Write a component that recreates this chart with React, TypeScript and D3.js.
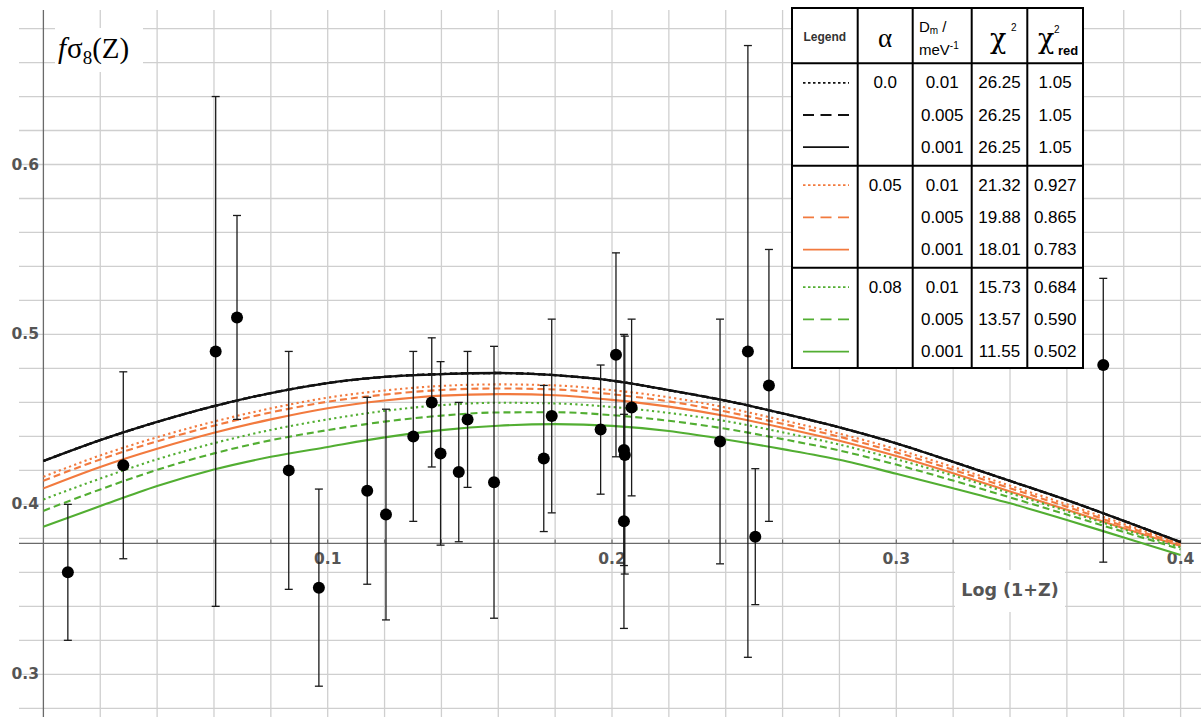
import React from "react";
import * as d3 from "d3";

// Model grid in log(1+z)
const zGrid = [0, 0.02, 0.04, 0.06, 0.08, 0.1, 0.12, 0.14, 0.16, 0.18, 0.2, 0.22, 0.24, 0.26, 0.28, 0.3, 0.32, 0.34, 0.36, 0.38, 0.4];

// fσ8 model curves, α = 0.0 (identical for every Dm)
const a00_dm010 = [0.4255, 0.4378, 0.4485, 0.4578, 0.4655, 0.4714, 0.475, 0.4767, 0.4773, 0.476, 0.4728, 0.4672, 0.461, 0.4535, 0.4453, 0.4359, 0.425, 0.4138, 0.4025, 0.3903, 0.3778];
const a00_dm005 = [0.4255, 0.4378, 0.4485, 0.4578, 0.4655, 0.4714, 0.475, 0.4767, 0.4773, 0.476, 0.4728, 0.4672, 0.461, 0.4535, 0.4453, 0.4359, 0.425, 0.4138, 0.4025, 0.3903, 0.3778];
const a00_dm001 = [0.4255, 0.4378, 0.4485, 0.4578, 0.4655, 0.4714, 0.475, 0.4767, 0.4773, 0.476, 0.4728, 0.4672, 0.461, 0.4535, 0.4453, 0.4359, 0.425, 0.4138, 0.4025, 0.3903, 0.3778];
// α = 0.05
const a05_dm010 = [0.4162, 0.4288, 0.4395, 0.4487, 0.4565, 0.4628, 0.467, 0.4697, 0.4706, 0.47, 0.4672, 0.463, 0.457, 0.4495, 0.4416, 0.4325, 0.422, 0.411, 0.4, 0.3885, 0.3771];
const a05_dm005 = [0.4139, 0.4264, 0.4371, 0.4463, 0.4541, 0.4604, 0.4646, 0.4673, 0.4682, 0.4676, 0.4648, 0.4606, 0.4546, 0.4474, 0.4398, 0.4306, 0.4203, 0.4095, 0.3986, 0.3873, 0.3765];
const a05_dm001 = [0.4094, 0.422, 0.4327, 0.4421, 0.45, 0.4566, 0.4611, 0.464, 0.4649, 0.4642, 0.4615, 0.4575, 0.452, 0.4451, 0.4374, 0.4284, 0.4183, 0.4076, 0.3968, 0.3859, 0.3755];
// α = 0.08
const a08_dm010 = [0.4029, 0.4152, 0.4265, 0.436, 0.4438, 0.45, 0.455, 0.4584, 0.4598, 0.4594, 0.4573, 0.4538, 0.449, 0.4424, 0.4352, 0.4266, 0.417, 0.4065, 0.396, 0.3853, 0.3747];
const a08_dm005 = [0.3962, 0.4088, 0.4203, 0.43, 0.4377, 0.4437, 0.4487, 0.4522, 0.4541, 0.4542, 0.4525, 0.4492, 0.4445, 0.4384, 0.4317, 0.4234, 0.414, 0.4041, 0.394, 0.3838, 0.3735];
const a08_dm001 = [0.3868, 0.399, 0.4108, 0.4205, 0.428, 0.4338, 0.4394, 0.4437, 0.4463, 0.4472, 0.4462, 0.4432, 0.4382, 0.4325, 0.4262, 0.418, 0.4095, 0.4006, 0.3908, 0.3805, 0.3702];

// Observed fσ8 measurements
const obsZ = [0.0086, 0.0281, 0.0606, 0.0681, 0.0863, 0.0969, 0.1139, 0.1205, 0.1301, 0.1366, 0.1397, 0.1461, 0.1492, 0.1585, 0.176, 0.1788, 0.196, 0.2014, 0.2042, 0.2045, 0.2042, 0.2069, 0.238, 0.2478, 0.2504, 0.2552, 0.3728];
const obsF = [0.36, 0.423, 0.49, 0.51, 0.42, 0.351, 0.408, 0.394, 0.44, 0.46, 0.43, 0.419, 0.45, 0.413, 0.427, 0.452, 0.444, 0.488, 0.432, 0.429, 0.39, 0.457, 0.437, 0.49, 0.381, 0.47, 0.482];
const errUp = [0.04, 0.055, 0.15, 0.06, 0.07, 0.058, 0.055, 0.062, 0.05, 0.038, 0.054, 0.041, 0.04, 0.08, 0.043, 0.057, 0.038, 0.06, 0.068, 0.07, 0.063, 0.052, 0.072, 0.18, 0.04, 0.08, 0.051];
const errDown = [0.04, 0.055, 0.15, 0.06, 0.07, 0.058, 0.055, 0.062, 0.05, 0.038, 0.054, 0.041, 0.04, 0.08, 0.043, 0.057, 0.038, 0.06, 0.068, 0.07, 0.063, 0.052, 0.072, 0.18, 0.04, 0.08, 0.116];

// Axis ticks
const xTickLabels = [0.1, 0.2, 0.3, 0.4];
const yTickLabels = [0.3, 0.4, 0.5, 0.6];
const xGridVals = d3.range(0.02, 0.4001, 0.02);
const yGridVals = d3.range(0.28, 0.6801, 0.02);
const xAxisAt = 0.377;

// Legend table contents
const alphaLabels = ["0.0", "0.05", "0.08"];
const dmLabels = ["0.01", "0.005", "0.001"];
const chi2Labels = [["26.25", "26.25", "26.25"], ["21.32", "19.88", "18.01"], ["15.73", "13.57", "11.55"]];
const chi2RedLabels = [["1.05", "1.05", "1.05"], ["0.927", "0.865", "0.783"], ["0.684", "0.590", "0.502"]];

const BLACK = "#111111";
const ORANGE = "#F27A3E";
const GREEN = "#52AE32";
const groupColors = [BLACK, ORANGE, GREEN];
const plotDash = ["2.2,3.3", "7,4", null];
const legendDash = ["2.5,2.5", "11,6.5", null];

const curves = [
  { vals: a00_dm010, g: 0, s: 0 },
  { vals: a00_dm005, g: 0, s: 1 },
  { vals: a00_dm001, g: 0, s: 2 },
  { vals: a05_dm010, g: 1, s: 0 },
  { vals: a05_dm005, g: 1, s: 1 },
  { vals: a05_dm001, g: 1, s: 2 },
  { vals: a08_dm010, g: 2, s: 0 },
  { vals: a08_dm005, g: 2, s: 1 },
  { vals: a08_dm001, g: 2, s: 2 },
];

const W = 1201;
const H = 717;

export default function App() {
  const x = d3.scaleLinear().domain([0, 0.4]).range([43.4, 1180.6]);
  const y = d3.scaleLinear().domain([0.3, 0.6]).range([674.3, 164.5]);

  const line = d3
    .line<number>()
    .x((_, i) => x(zGrid[i]))
    .y((d) => y(d))
    .curve(d3.curveMonotoneX);

  const plotLeft = 19;
  const plotTop = 10;
  const axisY = y(xAxisAt);
  const labelColor = "#555555";
  const tickFont = "'DejaVu Sans', sans-serif";

  // legend geometry
  const colX = [792, 857.7, 912.7, 971.7, 1027.3, 1083];
  const rowY = [8, 63.3, 165.7, 267.7, 368];
  const colMid = (c: number) => (colX[c] + colX[c + 1]) / 2;
  const rowCenter = (g: number, r: number) => rowY[g + 1] + 19.5 + r * 32.2;
  const cellFont = "'Liberation Sans', Arial, sans-serif";
  const greekFont = "'DejaVu Serif', 'Liberation Serif', serif";

  return (
    <svg
      width={W}
      height={H}
      viewBox={`0 0 ${W} ${H}`}
      style={{ position: "absolute", left: 0, top: 0, display: "block", background: "#fff" }}
    >
      <rect x={0} y={0} width={W} height={H} fill="#fff" />

      {/* grid */}
      <g stroke="#cfcfcf" strokeWidth={1.3}>
        {xGridVals.map((v) => (
          <line key={"gx" + v} x1={x(v)} x2={x(v)} y1={plotTop} y2={H} />
        ))}
        {yGridVals.map((v) => (
          <line key={"gy" + v} x1={plotLeft} x2={W} y1={y(v)} y2={y(v)} />
        ))}
      </g>

      {/* axes */}
      <line x1={x(0)} x2={x(0)} y1={plotTop} y2={H} stroke="#6a6a6a" strokeWidth={1.3} />
      <line x1={plotLeft} x2={W} y1={axisY} y2={axisY} stroke="#6a6a6a" strokeWidth={1.3} />
      <g stroke="#6a6a6a" strokeWidth={1.2}>
        {xGridVals.map((v) => (
          <line key={"tx" + v} x1={x(v)} x2={x(v)} y1={axisY} y2={axisY - 4} />
        ))}
      </g>

      {/* tick labels */}
      <g fontFamily={tickFont} fontWeight="bold" fontSize={15.5} fill={labelColor}>
        {yTickLabels.map((v) => (
          <text key={"yl" + v} x={39} y={y(v)} textAnchor="end" dominantBaseline="central">
            {v.toFixed(1)}
          </text>
        ))}
        {xTickLabels.map((v) => (
          <text key={"xl" + v} x={x(v)} y={563.5} textAnchor="middle">
            {v.toFixed(1)}
          </text>
        ))}
      </g>

      {/* axis labels */}
      <rect x={955} y={570} width={110} height={42} fill="#fff" />
      <text x={1010} y={596} textAnchor="middle" fontFamily={tickFont} fontWeight="bold" fontSize={17.5} fill={labelColor}>
        Log (1+Z)
      </text>
      <rect x={55} y={28} width={88} height={44} fill="#fff" />
      <text x={58} y={58} fontFamily="'Liberation Serif', 'Times New Roman', serif" fontSize={29} fill="#000">
        <tspan fontStyle="italic">f</tspan>
        <tspan dx={1}>σ</tspan>
        <tspan fontSize={19} dy={6}>8</tspan>
        <tspan dy={-6}>(Z)</tspan>
      </text>

      {/* model curves, black ones on top */}
      {curves
        .slice()
        .sort((a, b) => (a.g === 0 ? 1 : 0) - (b.g === 0 ? 1 : 0))
        .map((c, i) => (
          <path
            key={"c" + i}
            d={line(c.vals) || ""}
            fill="none"
            stroke={groupColors[c.g]}
            strokeWidth={c.g === 0 ? 2.3 : 2.1}
            strokeDasharray={plotDash[c.s] || undefined}
          />
        ))}

      {/* error bars */}
      <g stroke="#1a1a1a" strokeWidth={1.3}>
        {obsZ.map((z, i) => {
          const cx = x(z);
          const top = y(obsF[i] + errUp[i]);
          const bot = y(obsF[i] - errDown[i]);
          return (
            <g key={"e" + i}>
              <line x1={cx} x2={cx} y1={top} y2={bot} />
              <line x1={cx - 4} x2={cx + 4} y1={top} y2={top} />
              <line x1={cx - 4} x2={cx + 4} y1={bot} y2={bot} />
            </g>
          );
        })}
      </g>
      <g fill="#000">
        {obsZ.map((z, i) => (
          <circle key={"p" + i} cx={x(z)} cy={y(obsF[i])} r={6} />
        ))}
      </g>

      {/* legend table */}
      <g>
        <rect x={colX[0]} y={rowY[0]} width={colX[5] - colX[0]} height={rowY[4] - rowY[0]} fill="#fff" />
        <g stroke="#000" strokeWidth={2}>
          <rect x={colX[0]} y={rowY[0]} width={colX[5] - colX[0]} height={rowY[4] - rowY[0]} fill="none" />
          {colX.slice(1, 5).map((cx) => (
            <line key={"vc" + cx} x1={cx} x2={cx} y1={rowY[0]} y2={rowY[4]} />
          ))}
          {rowY.slice(1, 4).map((ry) => (
            <line key={"hr" + ry} x1={colX[0]} x2={colX[5]} y1={ry} y2={ry} />
          ))}
        </g>

        {/* header */}
        <text x={colMid(0)} y={37} textAnchor="middle" dominantBaseline="central" fontFamily={cellFont} fontWeight="bold" fontSize={12} fill="#333">
          Legend
        </text>
        <text x={colMid(1)} y={38} textAnchor="middle" dominantBaseline="central" fontFamily="'Liberation Serif', serif" fontSize={27} fill="#000">
          α
        </text>
        <text x={919} y={32} fontFamily={cellFont} fontSize={15} fill="#000">
          D<tspan fontSize={10} dy={2}>m</tspan>
          <tspan dy={-2}> /</tspan>
        </text>
        <text x={919} y={55} fontFamily={cellFont} fontSize={15} fill="#000">
          meV<tspan fontSize={10} dy={-6}>-1</tspan>
        </text>
        <text x={990} y={48} fontFamily={greekFont} fontSize={27} fill="#000">
          χ
        </text>
        <text x={1011} y={31} fontFamily={cellFont} fontSize={10} fill="#000">
          2
        </text>
        <text x={1038} y={48} fontFamily={greekFont} fontSize={27} fill="#000">
          χ
        </text>
        <text x={1054} y={33} fontFamily={cellFont} fontSize={10} fill="#000">
          2
        </text>
        <text x={1058} y={55} fontFamily={cellFont} fontWeight="bold" fontSize={13} fill="#000">
          red
        </text>

        {/* rows */}
        {alphaLabels.map((a, g) => (
          <g key={"grp" + g}>
            <text x={colMid(1)} y={rowCenter(g, 0)} textAnchor="middle" dominantBaseline="central" fontFamily={cellFont} fontSize={17} fill="#000">
              {a}
            </text>
            {dmLabels.map((dm, r) => {
              const cy = rowCenter(g, r);
              return (
                <g key={"row" + g + r}>
                  <line
                    x1={803}
                    x2={849}
                    y1={cy}
                    y2={cy}
                    stroke={groupColors[g]}
                    strokeWidth={1.8}
                    strokeDasharray={legendDash[r] || undefined}
                  />
                  <text x={colMid(2)} y={cy} textAnchor="middle" dominantBaseline="central" fontFamily={cellFont} fontSize={17} fill="#000">
                    {dm}
                  </text>
                  <text x={colMid(3)} y={cy} textAnchor="middle" dominantBaseline="central" fontFamily={cellFont} fontSize={17} fill="#000">
                    {chi2Labels[g][r]}
                  </text>
                  <text x={colMid(4)} y={cy} textAnchor="middle" dominantBaseline="central" fontFamily={cellFont} fontSize={17} fill="#000">
                    {chi2RedLabels[g][r]}
                  </text>
                </g>
              );
            })}
          </g>
        ))}
      </g>
    </svg>
  );
}
